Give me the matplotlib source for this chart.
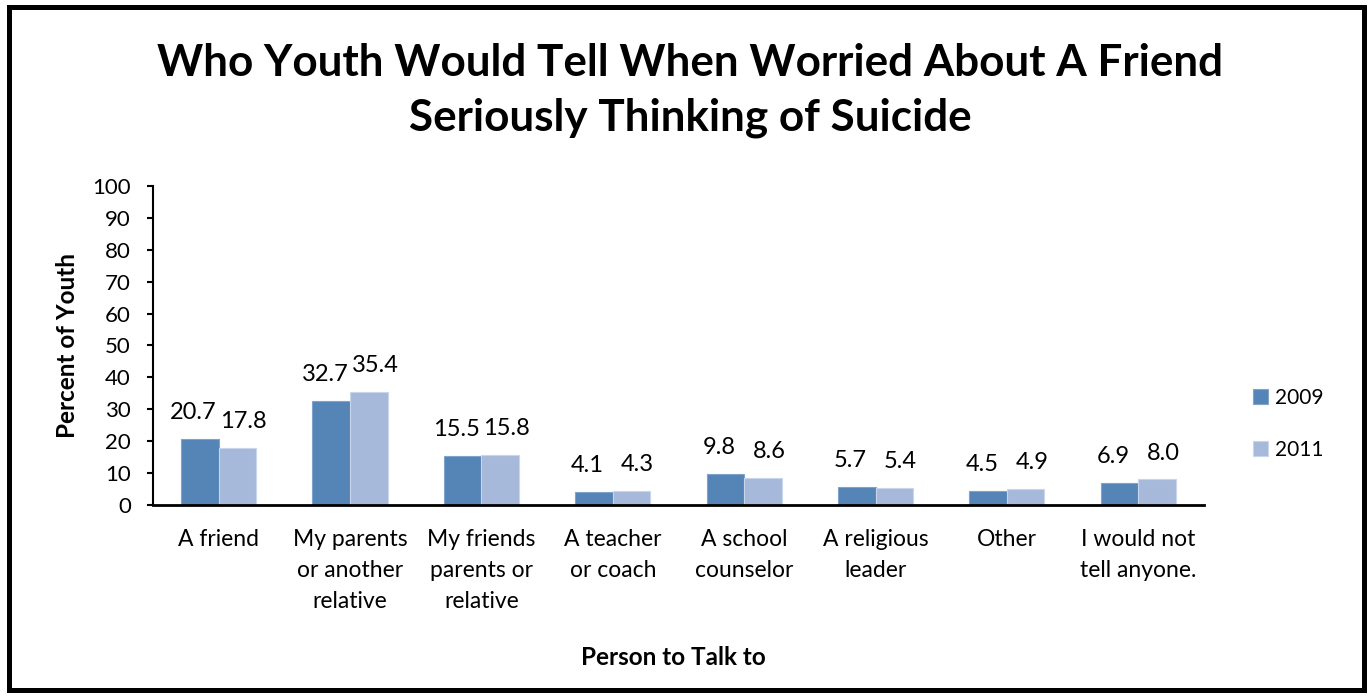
import matplotlib.pyplot as plt
import numpy as np
from matplotlib.patches import Rectangle

plt.rcParams['font.family'] = ['Lato', 'DejaVu Sans']

categories = ["A friend", "My parents\nor another\nrelative", "My friends\nparents or\nrelative",
              "A teacher\nor coach", "A school\ncounselor", "A religious\nleader", "Other",
              "I would not\ntell anyone."]
years = ["2009", "2011"]
vals_2009 = [20.7, 32.7, 15.5, 4.1, 9.8, 5.7, 4.5, 6.9]
vals_2011 = [17.8, 35.4, 15.8, 4.3, 8.6, 5.4, 4.9, 8.0]

col_2009 = "#5584b6"
col_2011 = "#a6b9da"

fig = plt.figure(figsize=(13.72, 6.96), dpi=100)
ax = fig.add_axes([0.1115, 0.2744, 0.766, 0.4586])

x = np.arange(len(categories))
w = 0.286
b1 = ax.bar(x - w / 2, vals_2009, w, color=col_2009, edgecolor="#7fa3cc", linewidth=0.8, label=years[0])
b2 = ax.bar(x + w / 2, vals_2011, w, color=col_2011, edgecolor="#c8d5ea", linewidth=0.8, label=years[1])

# data labels, nudged a little apart like the excel original
for bars, vals, dx in [(b1, vals_2009, -4.5), (b2, vals_2011, 4.5)]:
    for r, v in zip(bars, vals):
        ax.annotate(f"{v:.1f}", (r.get_x() + r.get_width() / 2, v), xytext=(dx, 19),
                    textcoords="offset points", ha="center", va="center", fontsize=17)

ax.set_xlim(-0.5, len(categories) - 0.5)
ax.set_ylim(0, 100)
ax.set_yticks(range(0, 101, 10))
ax.tick_params(axis="y", labelsize=16, length=4, width=1.5, direction="out", pad=12)
ax.set_xticks(x)
ax.set_xticklabels(categories, fontsize=16.5, linespacing=1.6, va="top")
ax.tick_params(axis="x", length=0, pad=17)

for s in ["top", "right"]:
    ax.spines[s].set_visible(False)
ax.spines["left"].set_linewidth(1.5)
ax.spines["bottom"].set_linewidth(2)

ax.set_ylabel("Percent of Youth", fontsize=17.5, fontweight="bold")
ax.yaxis.set_label_coords(-0.07, 0.5)
fig.text(0.491, 0.056, "Person to Talk to", ha="center", va="center", fontsize=17.5, fontweight="bold")

fig.text(0.503, 0.870, "Who Youth Would Tell When Worried About A Friend\nSeriously Thinking of Suicide",
         ha="center", va="center", fontsize=31.7, fontweight="bold", linespacing=1.42)

ax.legend(loc="center left", bbox_to_anchor=(0.9074, 0.391), bbox_transform=fig.transFigure,
          frameon=False, fontsize=15, borderaxespad=0, handlelength=0.7, handleheight=0.7,
          labelspacing=1.55, handletextpad=0.35)

fig.patches.append(Rectangle((0.0068, 0.0085), 0.9872, 0.982, transform=fig.transFigure,
                             fill=False, edgecolor="black", linewidth=3.6))

fig.savefig("out.png", dpi=100)
